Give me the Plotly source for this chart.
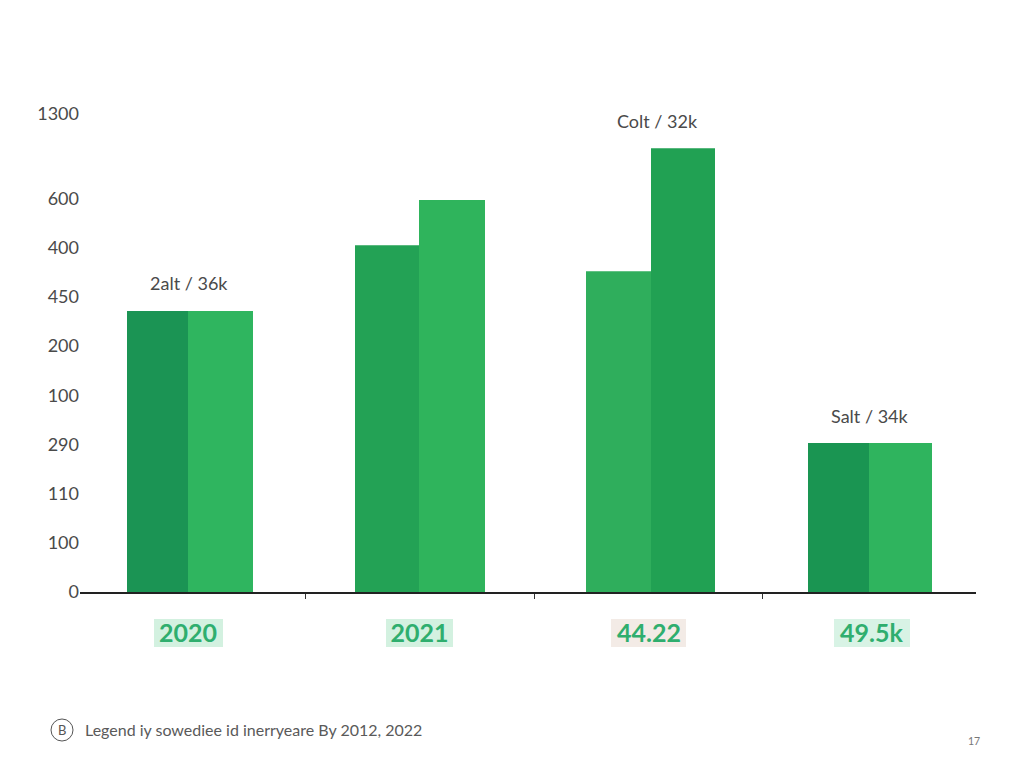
import plotly.graph_objects as go

categories = ["2020", "2021", "44.22", "49.5k"]
left_values = [5.71, 7.05, 6.52, 3.03]
right_values = [5.71, 7.97, 9.02, 3.03]
y_tick_text = ["0", "100", "110", "290", "100", "200", "450", "400", "600", "1300"]
y_tick_pos = [0, 1, 2, 3, 4, 5, 6, 7, 8, 9.73]
bar_labels = ["2alt / 36k", None, "Colt / 32k", "Salt / 34k"]
footnote = "Legend iy sowediee id inerryeare By 2012, 2022"

# layout helpers (pixel-aligned x axis: 80..976)
L_X = [157.5, 387, 618.5, 838.5]
L_W = [61, 64, 65, 61]
R_X = [220.5, 452, 683, 900.5]
R_W = [65, 66, 64, 63]
L_C = ["#1b9454", "#23a255", "#2fae5c", "#1a9552"]
R_C = ["#2fb55f", "#2fb45c", "#21a153", "#2fb45e"]
CENTERS = [188, 419.5, 649, 871.5]
SEPARATORS = [305, 534, 762]
LABEL_X = [189, None, 657, 870]
LABEL_SHIFT = [15, 0, 14, 14]
CHIPS = [(154, 223, "#d3f1e0"), (386, 453, "#d3f1e0"), (611, 686, "#f3ebe6"), (834, 910, "#d8f3e5")]

W, H = 1024, 768
LEFT, RIGHT = 80, 976
TOP, BOT = 90, 592
UNIT = 49.2
FONT = "Lato"


def py(pixel):
    return (BOT - pixel) / (BOT - TOP)


def px(pixel):
    return (pixel - LEFT) / (RIGHT - LEFT)


fig = go.Figure()
fig.add_bar(x=L_X, y=left_values, width=L_W, marker=dict(color=L_C, line=dict(width=0)))
fig.add_bar(x=R_X, y=right_values, width=R_W, marker=dict(color=R_C, line=dict(width=0)))

shapes = [
    dict(type="rect", xref="x", yref="paper", x0=a, x1=b, y0=py(647), y1=py(619),
         fillcolor=c, line=dict(width=0), layer="below")
    for a, b, c in CHIPS
]
shapes.append(dict(type="circle", xref="paper", yref="paper", x0=px(51), x1=px(73),
                   y0=py(741), y1=py(719), line=dict(color="#555555", width=1)))

annotations = []
for lx, text, lv, rv, shift in zip(LABEL_X, bar_labels, left_values, right_values, LABEL_SHIFT):
    if text:
        annotations.append(dict(x=lx, y=max(lv, rv), text=text, showarrow=False, yanchor="bottom",
                                yshift=shift, font=dict(family=FONT, size=18, color="#4a4a4a")))
annotations += [
    dict(xref="paper", yref="paper", x=px(83), y=py(729.5), xanchor="left", yanchor="middle",
         text=footnote, showarrow=False, font=dict(family=FONT, size=16, color="#5a5a5a")),
    dict(xref="paper", yref="paper", x=px(62), y=py(730), xanchor="center", yanchor="middle",
         text="B", showarrow=False, font=dict(family=FONT, size=13, color="#555555")),
    dict(xref="paper", yref="paper", x=px(974), y=py(741), xanchor="center", yanchor="middle",
         text="17", showarrow=False, font=dict(family=FONT, size=10.5, color="#777777")),
]

fig.update_layout(
    width=W, height=H, barmode="overlay", showlegend=False,
    paper_bgcolor="white", plot_bgcolor="white",
    margin=dict(l=LEFT, r=W - RIGHT, t=TOP, b=H - BOT, autoexpand=False),
    shapes=shapes, annotations=annotations,
    xaxis=dict(range=[LEFT, RIGHT], tickmode="array", tickvals=CENTERS, ticktext=categories,
               ticks="", showgrid=False, zeroline=False, showline=True, linecolor="#222222", linewidth=2,
               ticklabelstandoff=18,
               tickfont=dict(family=FONT, size=25, color="#2fae6e", weight=700),
               minor=dict(tickmode="array", tickvals=SEPARATORS, ticks="outside", ticklen=5,
                          tickcolor="#333333", tickwidth=1, showgrid=False)),
    yaxis=dict(range=[0, (BOT - TOP) / UNIT], tickmode="array", tickvals=y_tick_pos, ticktext=y_tick_text,
               ticks="", showgrid=False, zeroline=False, showline=False,
               tickfont=dict(family=FONT, size=18, color="#4a4a4a")),
)

fig.write_html("out.html", config=dict(displayModeBar=False),
               post_script="document.body.style.margin='0';document.body.style.overflow='hidden';")
